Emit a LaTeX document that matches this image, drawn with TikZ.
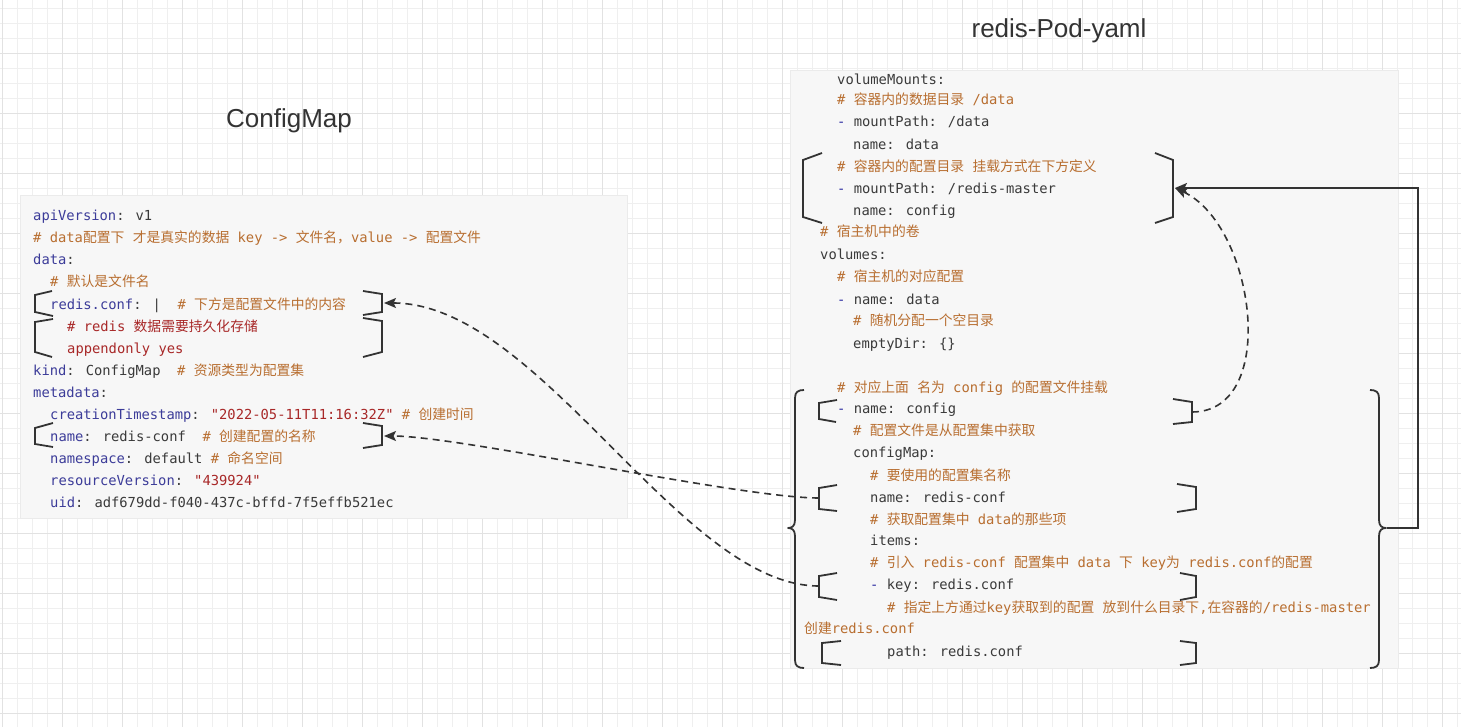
\documentclass[tikz,border=0pt]{standalone}
\usepackage{fontspec}
\usetikzlibrary{arrows.meta}
\newfontfamily\monof{DejaVu Sans Mono}
\newfontfamily\cjkf{Noto Sans CJK SC}
\newfontfamily\titlef{Liberation Sans}
\definecolor{keyc}{HTML}{3C3C99}
\definecolor{cmtc}{HTML}{B86E30}
\definecolor{strc}{HTML}{A82828}
\definecolor{dashc}{HTML}{2A2AA0}
\definecolor{txtc}{HTML}{3A3A3A}
\definecolor{linec}{HTML}{333333}
\definecolor{boxc}{HTML}{F7F7F7}
\definecolor{boxb}{HTML}{EBEBEB}
\definecolor{gminor}{HTML}{EFEFEF}
\definecolor{gmajor}{HTML}{E2E2E2}
\newcommand\Cj[1]{{\cjkf #1}}
\newcommand\Kc[1]{\textcolor{keyc}{#1}}
\newcommand\Cm[1]{\textcolor{cmtc}{#1}}
\newcommand\Rd[1]{\textcolor{strc}{#1}}
\newcommand\Ds{\textcolor{dashc}{-}}
\begin{document}
\begin{tikzpicture}[x=1pt,y=-1pt,
  code/.style={anchor=base west, inner sep=0pt, text=txtc, font=\monof\fontsize{13.8}{16}\selectfont},
  title/.style={inner sep=0pt, text=linec, font=\titlef\fontsize{26}{30}\selectfont},
  codebox/.style={anchor=north west, inner sep=0pt, fill=boxc, draw=boxb, line width=0.8pt},
  brk/.style={draw=linec, line width=1.8pt, line join=miter},
  dconn/.style={draw=linec, line width=1.6pt, dash pattern=on 7pt off 5pt, -{Stealth[length=12pt,width=10pt,inset=2.5pt]}},
  sconn/.style={draw=linec, line width=1.8pt, -{Stealth[length=12pt,width=10pt,inset=2.5pt]}},
  gridmin/.style={draw=gminor, line width=0.8pt},
  gridmaj/.style={draw=gmajor, line width=0.9pt}]
\useasboundingbox (0,0) rectangle (1461,727);
\fill[white] (0,0) rectangle (1461,727);
% grid
\foreach \x in {2,17,...,1460} \draw[gridmin] (\x,0) -- (\x,727);
\foreach \y in {8,23,...,726} \draw[gridmin] (0,\y) -- (1461,\y);
\foreach \x in {2,62,...,1460} \draw[gridmaj] (\x,0) -- (\x,727);
\foreach \y in {53,113,...,726} \draw[gridmaj] (0,\y) -- (1461,\y);
% titles
\node[title] (t1) at (289,121) {ConfigMap};
\node[title] (t2) at (1059,31) {redis-Pod-yaml};
% boxes
\node[codebox, minimum width=607pt, minimum height=323pt] (cmbox) at (20,195) {};
\node[codebox, minimum width=608pt, minimum height=598pt] (podbox) at (790,70) {};
% left code
\node[code] (l0) at (33,221) {\Kc{apiVersion}: v1};
\node[code] (l1) at (33,243) {\Cm{\# data\Cj{配置下} \Cj{才是真实的数据} key -> \Cj{文件名，}value -> \Cj{配置文件}}};
\node[code] (l2) at (33,265) {\Kc{data}:};
\node[code] (l3) at (50,287) {\Cm{\# \Cj{默认是文件名}}};
\node[code] (l4) at (50,309) {\Kc{redis.conf}: |~~\Cm{\# \Cj{下方是配置文件中的内容}}};
\node[code] (l5) at (67,331) {\Rd{\# redis \Cj{数据需要持久化存储}}};
\node[code] (l6) at (67,353) {\Rd{appendonly yes}};
\node[code] (l7) at (33,375) {\Kc{kind}: ConfigMap~~\Cm{\# \Cj{资源类型为配置集}}};
\node[code] (l8) at (33,397) {\Kc{metadata}:};
\node[code] (l9) at (50,419) {\Kc{creationTimestamp}: \Rd{"2022-05-11T11:16:32Z"} \Cm{\# \Cj{创建时间}}};
\node[code] (l10) at (50,441) {\Kc{name}: redis-conf~~\Cm{\# \Cj{创建配置的名称}}};
\node[code] (l11) at (50,463) {\Kc{namespace}: default \Cm{\# \Cj{命名空间}}};
\node[code] (l12) at (50,485) {\Kc{resourceVersion}: \Rd{"439924"}};
\node[code] (l13) at (50,507) {\Kc{uid}: adf679dd-f040-437c-bffd-7f5effb521ec};
% right code
\node[code] (r0) at (837,85) {volumeMounts:};
\node[code] (r1) at (837,105) {\Cm{\# \Cj{容器内的数据目录} /data}};
\node[code] (r2) at (837,127) {\Ds{} mountPath: /data};
\node[code] (r3) at (853,150) {name: data};
\node[code] (r4) at (837,172) {\Cm{\# \Cj{容器内的配置目录} \Cj{挂载方式在下方定义}}};
\node[code] (r5) at (837,194) {\Ds{} mountPath: /redis-master};
\node[code] (r6) at (853,216) {name: config};
\node[code] (r7) at (820,237) {\Cm{\# \Cj{宿主机中的卷}}};
\node[code] (r8) at (820,260) {volumes:};
\node[code] (r9) at (837,281) {\Cm{\# \Cj{宿主机的对应配置}}};
\node[code] (r10) at (837,304) {\Ds{} name: data};
\node[code] (r11) at (853,325) {\Cm{\# \Cj{随机分配一个空目录}}};
\node[code] (r12) at (853,348) {emptyDir: \{\}};
\node[code] (r13) at (837,392) {\Cm{\# \Cj{对应上面} \Cj{名为} config \Cj{的配置文件挂载}}};
\node[code] (r14) at (837,413) {\Ds{} name: config};
\node[code] (r15) at (853,435) {\Cm{\# \Cj{配置文件是从配置集中获取}}};
\node[code] (r16) at (853,457) {configMap:};
\node[code] (r17) at (870,480) {\Cm{\# \Cj{要使用的配置集名称}}};
\node[code] (r18) at (870,502) {name: redis-conf};
\node[code] (r19) at (870,524) {\Cm{\# \Cj{获取配置集中} data\Cj{的那些项}}};
\node[code] (r20) at (870,545) {items:};
\node[code] (r21) at (870,567) {\Cm{\# \Cj{引入} redis-conf \Cj{配置集中} data \Cj{下} key\Cj{为} redis.conf\Cj{的配置}}};
\node[code] (r22) at (870,589) {\Ds{} key: redis.conf};
\node[code] (r23) at (887,612) {\Cm{\# \Cj{指定上方通过}key\Cj{获取到的配置} \Cj{放到什么目录下},\Cj{在容器的}/redis-master}};
\node[code] (r24) at (804,633) {\Cm{\Cj{创建}redis.conf}};
\node[code] (r25) at (887,656) {path: redis.conf};
% brackets left block
\draw[brk] (52,291) -- (35,295) -- (35,312) -- (53,316);
\draw[brk] (53,319) -- (35,322) -- (35,352) -- (52,357);
\draw[brk] (363,291) -- (382,294) -- (382,312) -- (363,315);
\draw[brk] (363,318) -- (382,321) -- (382,352) -- (363,357);
\draw[brk] (53,423) -- (35,428) -- (35,444) -- (53,447);
\draw[brk] (363,423) -- (382,426) -- (382,445) -- (363,448);
% brackets right block
\draw[brk] (822,153) -- (803,160) -- (803,217) -- (822,223);
\draw[brk] (1155,153) -- (1173,160) -- (1173,217) -- (1155,223);
\draw[brk] (837,400) -- (819,403) -- (819,419) -- (836,422);
\draw[brk] (1173,399) -- (1192,402) -- (1192,422) -- (1173,424);
\draw[brk] (837,485) -- (819,488) -- (819,509) -- (837,511);
\draw[brk] (1177,484) -- (1196,487) -- (1196,509) -- (1177,512);
\draw[brk] (837,573) -- (819,576) -- (819,597) -- (837,600);
\draw[brk] (1180,573) -- (1196,576) -- (1196,597) -- (1180,600);
\draw[brk] (841,641) -- (822,643) -- (822,663) -- (841,665);
\draw[brk] (1180,641) -- (1196,643) -- (1196,663) -- (1180,665);
% curly braces
\draw[brk, line join=round] (804,390) .. controls (798,390) and (795,392) .. (795,398) -- (795,520) .. controls (795,526) and (792,528) .. (788,528) .. controls (792,528) and (795,530) .. (795,536) -- (795,660) .. controls (795,666) and (798,668) .. (804,668);
\draw[brk, line join=round] (1370,390) .. controls (1376,390) and (1379,392) .. (1379,398) -- (1379,520) .. controls (1379,526) and (1382,528) .. (1386,528) .. controls (1382,528) and (1379,530) .. (1379,536) -- (1379,660) .. controls (1379,666) and (1376,668) .. (1370,668);
% connection points
\coordinate (aR) at (384,303);
\coordinate (cR) at (384,436);
\coordinate (dR) at (1175,188);
\coordinate (eR) at (1192,412);
\coordinate (fL) at (819,498);
\coordinate (gL) at (819,586);
\coordinate (rtip) at (1387,528);
\coordinate (elb1) at (1418,528);
\coordinate (elb2) at (1418,188);
% connectors
\draw[dconn] (fL) .. controls (740,498) and (460,436) .. (cR);
\draw[dconn] (gL) .. controls (680,586) and (540,303) .. (aR);
\draw[dconn] (eR) .. controls (1280,412) and (1255,225) .. (dR);
\draw[sconn] (rtip) -- (elb1) -- (elb2) -- (dR);
\end{tikzpicture}
\end{document}
